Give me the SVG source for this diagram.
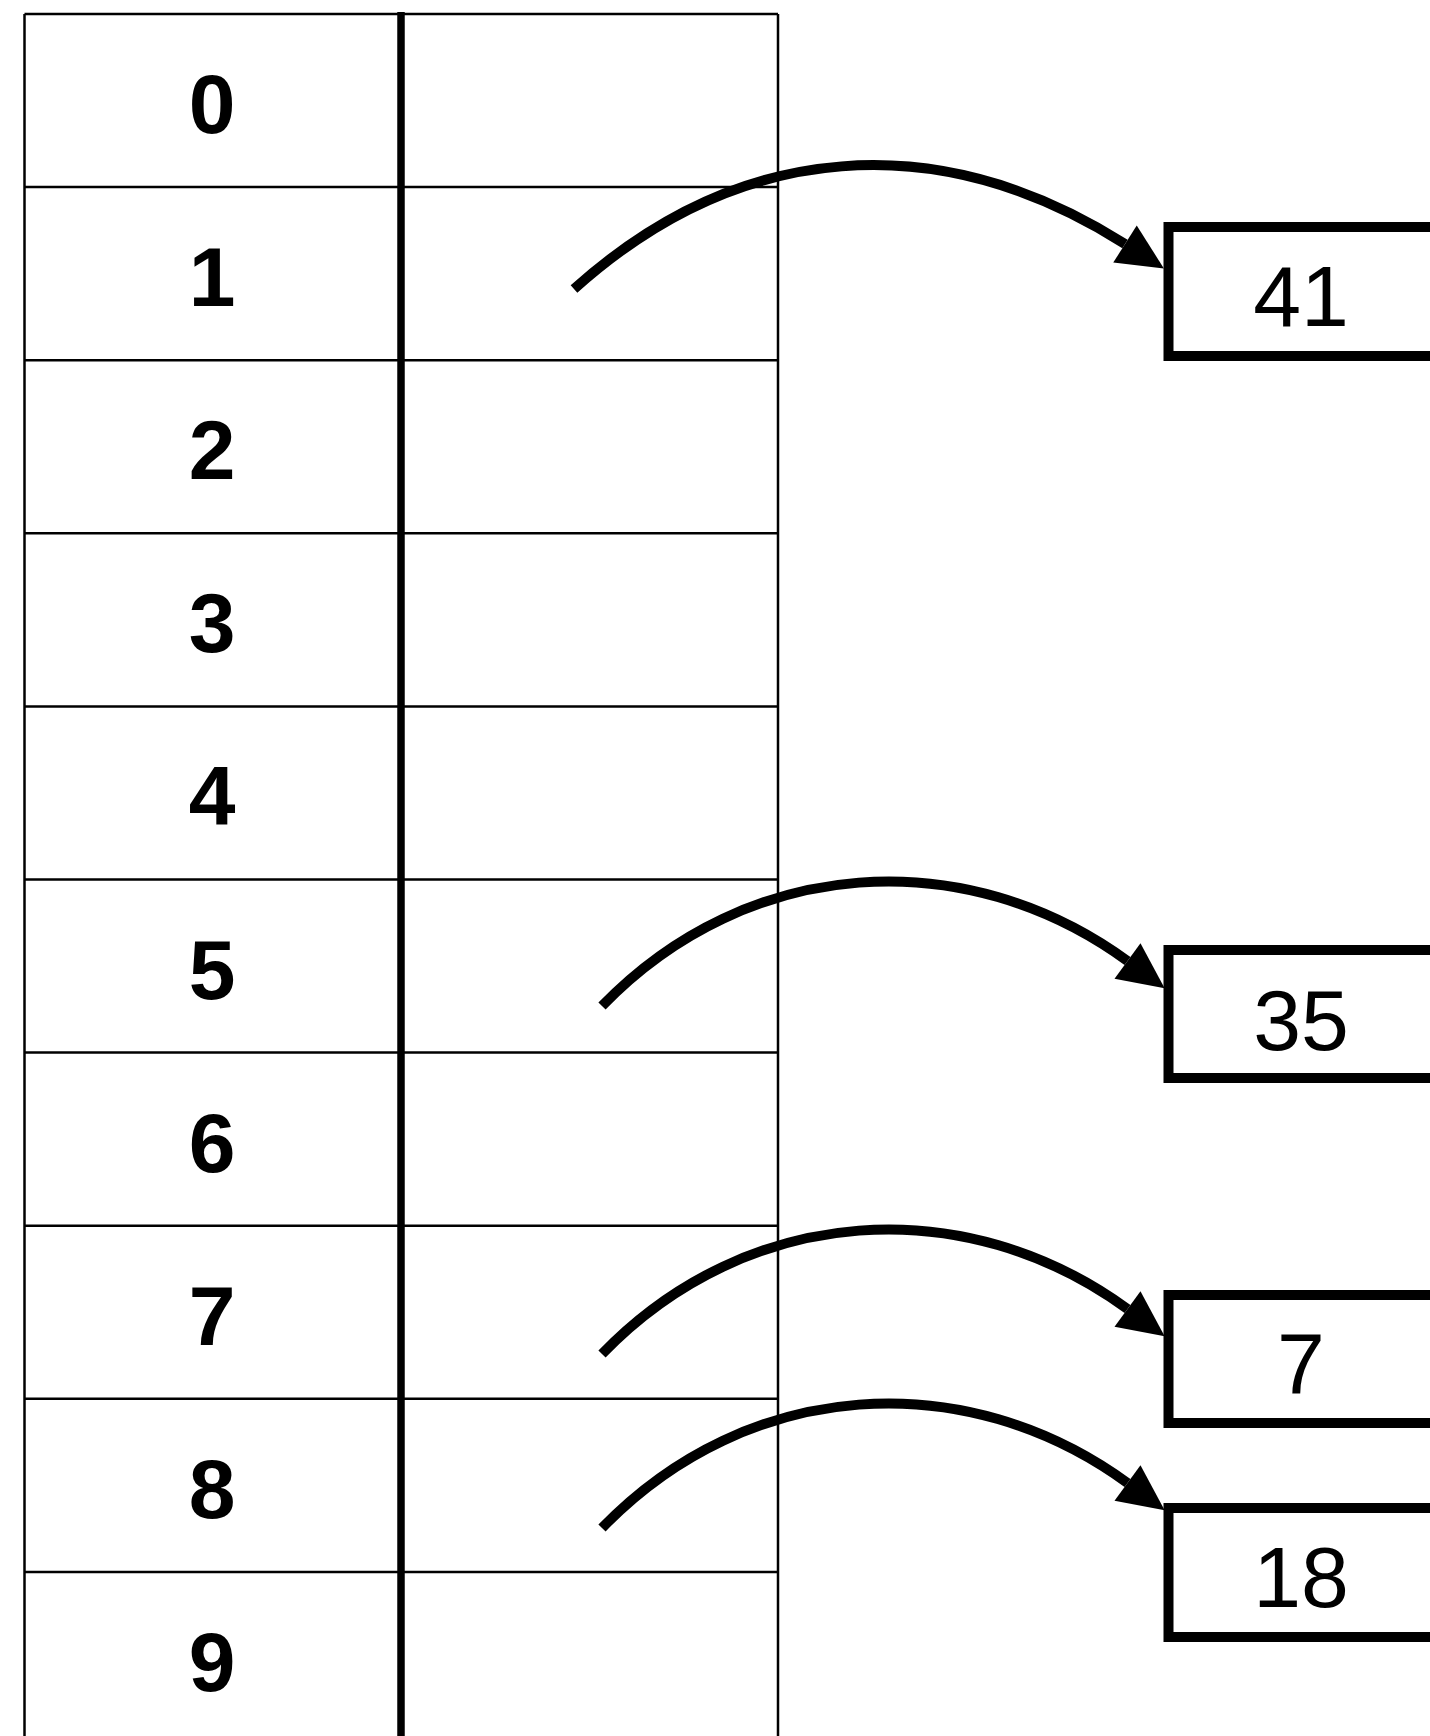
<svg xmlns="http://www.w3.org/2000/svg" width="1430" height="1736" viewBox="0 0 1430 1736">
<style>
.thin{stroke:#000;stroke-width:2.5;fill:none}
.thick{stroke:#000;stroke-width:7.5;fill:none}
.idx{font-family:"Liberation Sans",Arial,sans-serif;font-weight:bold;font-size:84px;text-anchor:middle;fill:#000}
.box{fill:#fff;stroke:#000;stroke-width:10}
.val{font-family:"Liberation Sans",Arial,sans-serif;font-size:86px;text-anchor:middle;fill:#000}
.conn{fill:none;stroke:#000;stroke-width:10;marker-end:url(#ah)}
</style>
<defs>
<marker id="ah" markerUnits="userSpaceOnUse" orient="auto" markerWidth="50" markerHeight="50" refX="0" refY="22" viewBox="0 0 50 44" overflow="visible">
<path d="M0,0 L46,22 L0,44 Z" fill="#000"/>
</marker>
</defs>
<rect width="1430" height="1736" fill="#fff"/>
<g id="table">
<line class="thin" x1="24.5" y1="14" x2="24.5" y2="1740"/>
<line class="thin" x1="778" y1="14" x2="778" y2="1740"/>
<line class="thin" x1="24.5" y1="14" x2="778" y2="14"/>
<line class="thin" x1="24.5" y1="187.1" x2="778" y2="187.1"/>
<line class="thin" x1="24.5" y1="360.2" x2="778" y2="360.2"/>
<line class="thin" x1="24.5" y1="533.3" x2="778" y2="533.3"/>
<line class="thin" x1="24.5" y1="706.4" x2="778" y2="706.4"/>
<line class="thin" x1="24.5" y1="879.5" x2="778" y2="879.5"/>
<line class="thin" x1="24.5" y1="1052.6" x2="778" y2="1052.6"/>
<line class="thin" x1="24.5" y1="1225.7" x2="778" y2="1225.7"/>
<line class="thin" x1="24.5" y1="1398.8" x2="778" y2="1398.8"/>
<line class="thin" x1="24.5" y1="1571.9" x2="778" y2="1571.9"/>
<line class="thick" x1="401" y1="12" x2="401" y2="1740"/>
</g>
<g id="row0"><text class="idx" x="212" y="133">0</text></g>
<g id="row1"><text class="idx" x="212" y="306.1">1</text></g>
<g id="row2"><text class="idx" x="212" y="479.2">2</text></g>
<g id="row3"><text class="idx" x="212" y="652.3">3</text></g>
<g id="row4"><text class="idx" x="212" y="825.4">4</text></g>
<g id="row5"><text class="idx" x="212" y="998.5">5</text></g>
<g id="row6"><text class="idx" x="212" y="1171.6">6</text></g>
<g id="row7"><text class="idx" x="212" y="1344.7">7</text></g>
<g id="row8"><text class="idx" x="212" y="1517.8">8</text></g>
<g id="row9"><text class="idx" x="212" y="1690.9">9</text></g>
<g id="node41"><rect class="box" x="1168.5" y="227" width="267" height="129"/><text class="val" x="1301" y="326">41</text></g>
<g id="node35"><rect class="box" x="1168.5" y="950" width="267" height="128"/><text class="val" x="1301" y="1050">35</text></g>
<g id="node7"><rect class="box" x="1168.5" y="1295" width="267" height="128"/><text class="val" x="1301" y="1393">7</text></g>
<g id="node18"><rect class="box" x="1168.5" y="1508" width="267" height="129"/><text class="val" x="1301" y="1607">18</text></g>
<g id="connectors">
<path class="conn" d="M574,289 C740,140 938,126 1125,244"/>
<path class="conn" d="M602,1006 C748,855 966,843 1127.5,961"/>
<path class="conn" d="M602,1354 C748,1203 966,1191 1127.5,1309"/>
<path class="conn" d="M602,1528 C748,1377 966,1365 1127.5,1483"/>
</g>
</svg>
